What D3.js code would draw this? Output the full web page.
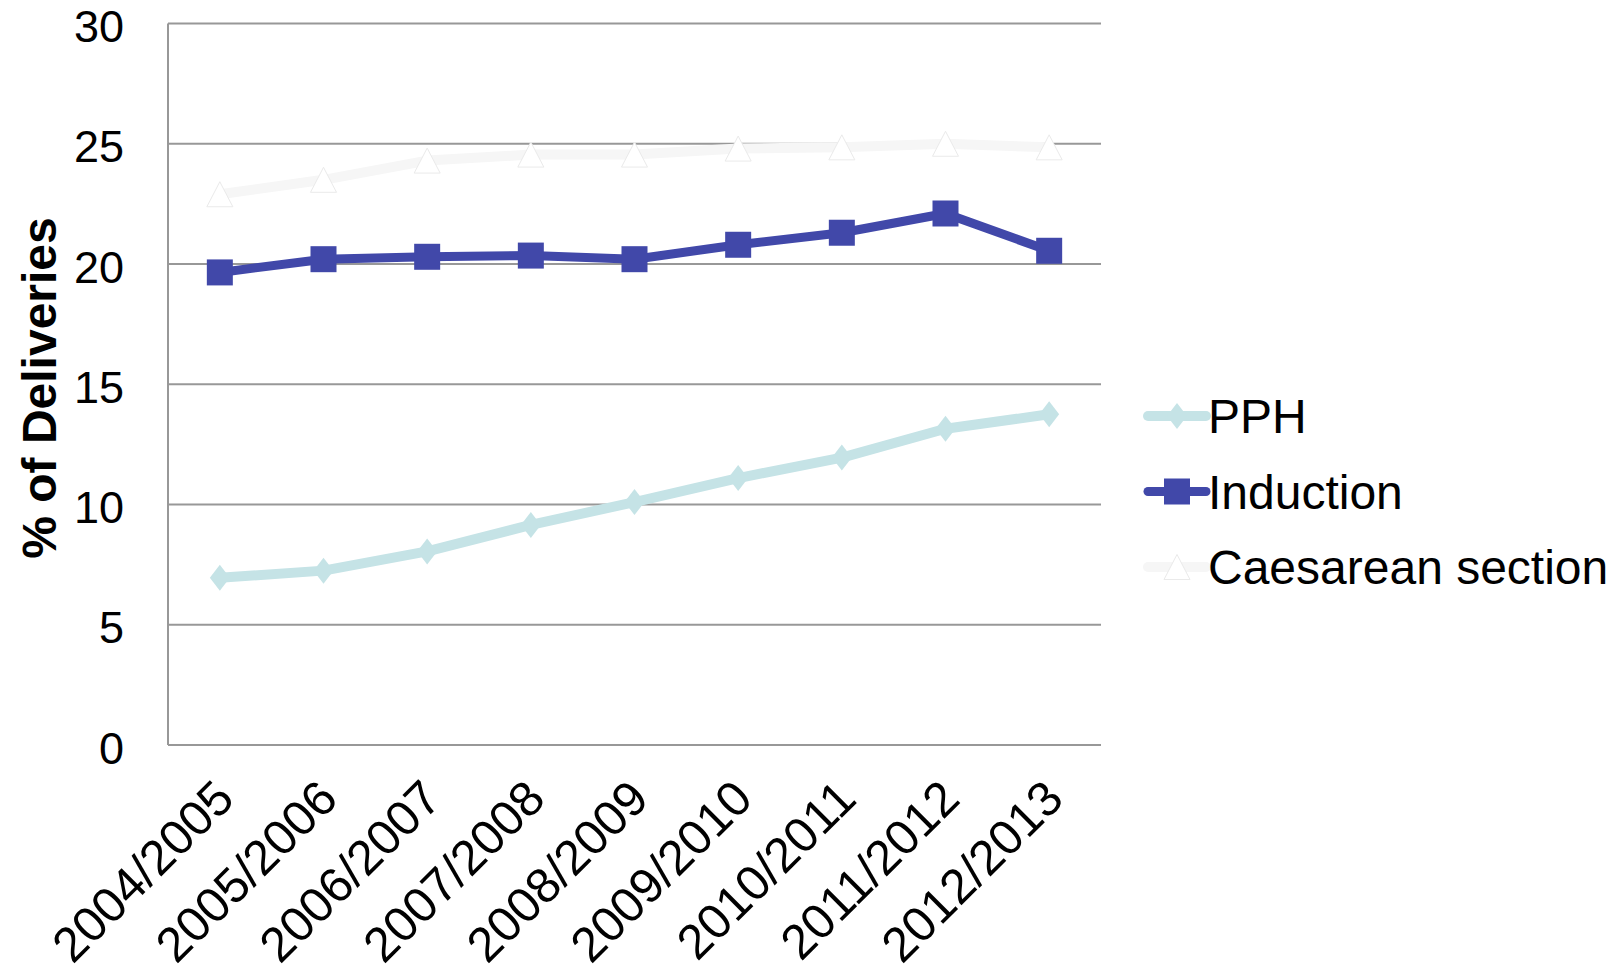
<!DOCTYPE html>
<html>
<head>
<meta charset="utf-8">
<script src="https://cdn.jsdelivr.net/npm/d3@7"></script>
<style>
  html, body { margin: 0; padding: 0; background: #fff; }
  svg { display: block; }
  text { font-family: "Liberation Sans", Arial, sans-serif; fill: #000; }
</style>
</head>
<body>
<script>
// Share of deliveries by year
const categories = ["2004/2005", "2005/2006", "2006/2007", "2007/2008", "2008/2009",
                    "2009/2010", "2010/2011", "2011/2012", "2012/2013"];
const pph        = [6.95, 7.25, 8.05, 9.15, 10.1, 11.1, 11.95, 13.15, 13.75];
const induction  = [19.65, 20.2, 20.3, 20.35, 20.2, 20.8, 21.3, 22.1, 20.55];
const caesarean  = [22.9, 23.5, 24.3, 24.55, 24.55, 24.8, 24.85, 25.0, 24.85];
const yTicks     = [0, 5, 10, 15, 20, 25, 30];
const seriesNames = ["PPH", "Induction", "Caesarean section"];

const W = 1617, H = 972;
const plot = { left: 168, right: 1101, top: 23.5, bottom: 745 };

const svg = d3.select("body").append("svg").attr("width", W).attr("height", H);

const x = d3.scalePoint().domain(categories).range([plot.left, plot.right]).padding(0.5);
const y = d3.scaleLinear().domain([0, 30]).range([plot.bottom, plot.top]);

// gridlines
svg.append("g").selectAll("line").data(yTicks).join("line")
  .attr("x1", plot.left).attr("x2", plot.right)
  .attr("y1", d => y(d)).attr("y2", d => y(d))
  .attr("stroke", "#989898").attr("stroke-width", 2);

// left axis line
svg.append("line")
  .attr("x1", plot.left).attr("x2", plot.left)
  .attr("y1", plot.top).attr("y2", plot.bottom)
  .attr("stroke", "#989898").attr("stroke-width", 2);

// y tick labels
const yAxis = d3.axisLeft(y).tickValues(yTicks).tickSize(0).tickPadding(44);
const gy = svg.append("g").attr("transform", `translate(${plot.left},0)`).call(yAxis);
gy.select(".domain").remove();
gy.selectAll("text")
  .style("font-family", '"Liberation Sans", Arial, sans-serif')
  .style("font-size", "45px").attr("fill", "#000")
  .attr("dy", "0.4em");

// x tick labels, rotated
const xAxis = d3.axisBottom(x).tickSize(0).tickPadding(0);
const gx = svg.append("g").attr("transform", `translate(0,${plot.bottom})`).call(xAxis);
gx.select(".domain").remove();
gx.selectAll("text")
  .style("font-family", '"Liberation Sans", Arial, sans-serif')
  .style("font-size", "49px").attr("fill", "#000")
  .attr("text-anchor", "end")
  .attr("y", 0).attr("dy", "0.35em")
  .attr("transform", "translate(4,44) rotate(-45)");

// y axis title
svg.append("text")
  .attr("transform", `translate(56,388) rotate(-90)`)
  .attr("text-anchor", "middle")
  .style("font-size", "48px").style("font-weight", "bold")
  .text("% of Deliveries");

const series = [
  { name: seriesNames[0], values: pph,       color: "#C5E3E6", width: 10, marker: "diamond" },
  { name: seriesNames[1], values: induction, color: "#4148A9", width: 9,  marker: "square" },
  { name: seriesNames[2], values: caesarean, color: "#F6F6F6", width: 10, marker: "triangle" }
];

function drawMarker(g, type, color) {
  if (type === "diamond") {
    g.append("path").attr("d", "M0,-13 L10,0 L0,13 L-10,0 Z").attr("fill", color);
  } else if (type === "square") {
    g.append("rect").attr("x", -13).attr("y", -13).attr("width", 26).attr("height", 26)
      .attr("fill", color);
  } else {
    g.append("path").attr("d", "M0,-12.5 L13,12.5 L-13,12.5 Z")
      .attr("fill", "#FFFFFF").attr("stroke", "#EAEAEA").attr("stroke-width", 1);
  }
}

const line = d3.line().x((d, i) => x(categories[i])).y(d => y(d));

// draw back-to-front: caesarean, induction, pph
[series[2], series[1], series[0]].forEach(s => {
  svg.append("path").datum(s.values)
    .attr("d", line).attr("fill", "none")
    .attr("stroke", s.color).attr("stroke-width", s.width)
    .attr("stroke-linejoin", "round");
  s.values.forEach((v, i) => {
    const g = svg.append("g").attr("transform", `translate(${x(categories[i])},${y(v)})`);
    drawMarker(g, s.marker, s.color);
  });
});

// legend
const legend = svg.append("g");
series.forEach((s, i) => {
  const cy = 416 + i * 75.5;
  const row = legend.append("g").attr("transform", `translate(0,${cy})`);
  row.append("line").attr("x1", 1148).attr("x2", 1206).attr("y1", 0).attr("y2", 0)
    .attr("stroke", s.color).attr("stroke-width", s.width).attr("stroke-linecap", "round");
  const m = row.append("g").attr("transform", "translate(1177,0)");
  drawMarker(m, s.marker, s.color);
  row.append("text").attr("x", 1208).attr("y", 0).attr("dy", "0.36em")
    .style("font-size", "48px").text(s.name);
});
</script>
</body>
</html>
